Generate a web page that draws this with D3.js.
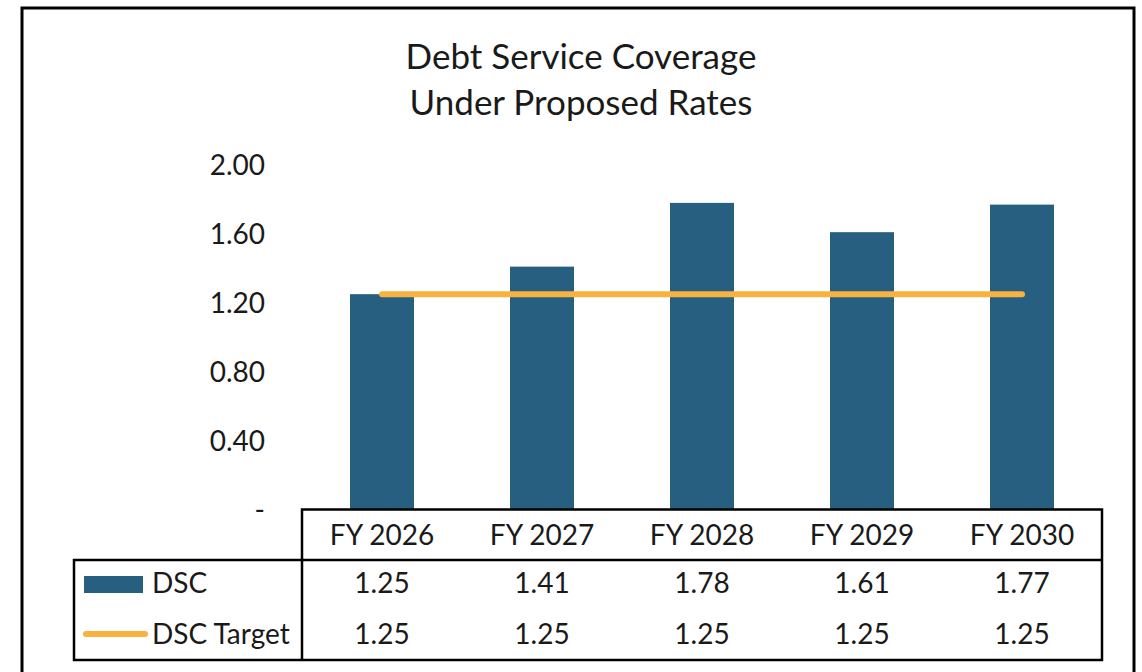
<!DOCTYPE html>
<html>
<head>
<meta charset="utf-8">
<script src="https://cdn.jsdelivr.net/npm/d3@7"></script>
<style>
  body { margin: 0; background: #fff; }
  text { font-family: Lato, "Open Sans", sans-serif; fill: #1a1a1a; }
</style>
</head>
<body>
<svg id="chart"></svg>
<script>
const categories = ['FY 2026', 'FY 2027', 'FY 2028', 'FY 2029', 'FY 2030'];
const dscValues = [1.25, 1.41, 1.78, 1.61, 1.77];
const targetValues = [1.25, 1.25, 1.25, 1.25, 1.25];
const yTicks = [0, 0.4, 0.8, 1.2, 1.6, 2.0];
const titleLines = ['Debt Service Coverage', 'Under Proposed Rates'];
const seriesNames = ['DSC', 'DSC Target'];

const width = 1142, height = 672;
const barColor = '#265f80';
const lineColor = '#f9b13f';

const svg = d3.select('#chart').attr('width', width).attr('height', height);

// outer frame
svg.append('rect')
  .attr('x', 22).attr('y', 8)
  .attr('width', 1112).attr('height', 700)
  .attr('fill', 'none').attr('stroke', '#000').attr('stroke-width', 3);

// title
svg.append('g').selectAll('text')
  .data(titleLines)
  .join('text')
  .attr('x', 581)
  .attr('y', (d, i) => 69 + i * 46)
  .attr('text-anchor', 'middle')
  .style('font-size', '35px')
  .text(d => d);

const x = d3.scaleBand()
  .domain(categories)
  .range([302, 1102])
  .paddingInner(0.6)
  .paddingOuter(0.3);

const y = d3.scaleLinear().domain([0, 2]).range([509.5, 165]);

// y axis, labels only
const yAxis = svg.append('g')
  .attr('transform', 'translate(302,1)')
  .call(d3.axisLeft(y)
    .tickValues(yTicks)
    .tickSize(0)
    .tickPadding(37)
    .tickFormat(d => d === 0 ? '-' : d3.format('.2f')(d)));
yAxis.select('.domain').remove();
yAxis.selectAll('text')
  .style('font-size', '28px')
  .style('font-family', 'Lato, sans-serif')
  .attr('fill', '#1a1a1a');

// bars
svg.append('g').selectAll('rect')
  .data(dscValues)
  .join('rect')
  .attr('x', (d, i) => x(categories[i]))
  .attr('y', d => y(d))
  .attr('width', x.bandwidth())
  .attr('height', d => y(0) - y(d))
  .attr('fill', barColor);

// target line
const line = d3.line()
  .x((d, i) => x(categories[i]) + x.bandwidth() / 2)
  .y(d => y(d));
svg.append('path')
  .datum(targetValues)
  .attr('d', line)
  .attr('fill', 'none')
  .attr('stroke', lineColor)
  .attr('stroke-width', 6)
  .attr('stroke-linecap', 'round');

// data table
const tbl = svg.append('g').attr('fill', 'none').attr('stroke', '#000').attr('stroke-width', 2.5);
const headTop = 509.5, rowTop = 560, tableBottom = 660, legendLeft = 74;
tbl.append('path').attr('d', `M302,${tableBottom}V${headTop}H1102V${tableBottom}H${legendLeft}V${rowTop}H1102`);

svg.append('g').selectAll('text')
  .data(categories)
  .join('text')
  .attr('x', d => x(d) + x.bandwidth() / 2)
  .attr('y', 545)
  .attr('text-anchor', 'middle')
  .style('font-size', '28px')
  .text(d => d);

const rows = [dscValues, targetValues];
const rowY = [593, 644];
rows.forEach((vals, r) => {
  svg.append('g').selectAll('text')
    .data(vals)
    .join('text')
    .attr('x', (d, i) => x(categories[i]) + x.bandwidth() / 2)
    .attr('y', rowY[r])
    .attr('text-anchor', 'middle')
    .style('font-size', '28px')
    .text(d => d3.format('.2f')(d));
});

// legend keys
svg.append('rect')
  .attr('x', 84).attr('y', 576).attr('width', 59).attr('height', 17)
  .attr('fill', barColor);
svg.append('line')
  .attr('x1', 86).attr('x2', 145).attr('y1', 634).attr('y2', 634)
  .attr('stroke', lineColor).attr('stroke-width', 6).attr('stroke-linecap', 'round');
svg.append('g').selectAll('text')
  .data(seriesNames)
  .join('text')
  .attr('x', 152)
  .attr('y', (d, i) => rowY[i])
  .style('font-size', '28px')
  .text(d => d);
</script>
</body>
</html>
